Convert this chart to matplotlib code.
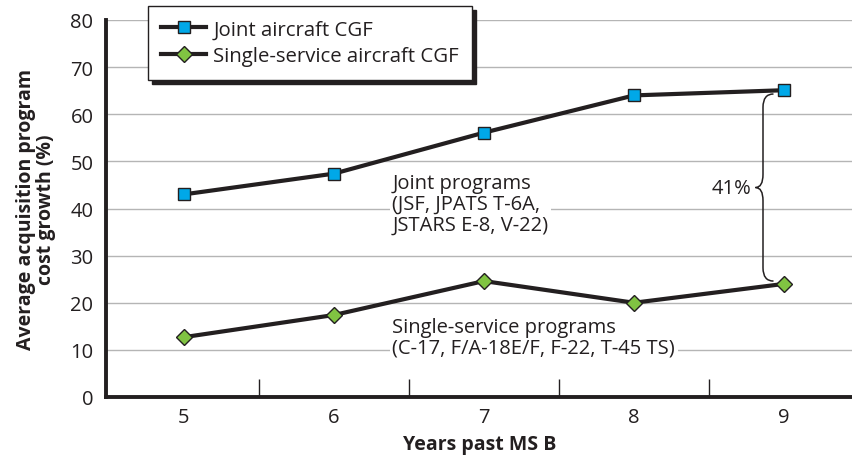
import numpy as np
import matplotlib.pyplot as plt
from matplotlib.path import Path
from matplotlib.patches import PathPatch

plt.rcParams['font.family'] = ['Open Sans', 'DejaVu Sans']

# data
years = [5, 6, 7, 8, 9]
joint_cgf = [43.0, 47.4, 56.1, 64.0, 65.1]
single_cgf = [12.7, 17.4, 24.6, 20.0, 24.0]
joint_label = 'Joint aircraft CGF'
single_label = 'Single-service aircraft CGF'
joint_note = 'Joint programs\n(JSF, JPATS T-6A,\nJSTARS E-8, V-22)'
single_note = 'Single-service programs\n(C-17, F/A-18E/F, F-22, T-45 TS)'
gap_label = '41%'

dark = '#231f20'
blue = '#00a8e8'
green = '#80c342'

fig = plt.figure(figsize=(8.53, 4.56), dpi=100)
ax = fig.add_axes([106/853, 58/456, 747/853, 377/456])

ax.plot(years, joint_cgf, color=dark, lw=3.0, marker='s', ms=8,
        mfc=blue, mec=dark, mew=1.0, label=joint_label, zorder=4)
ax.plot(years, single_cgf, color=dark, lw=3.0, marker='D', ms=8.5,
        mfc=green, mec=dark, mew=1.0, label=single_label, zorder=4)

ax.set_xlim(4.48, 9.46)
ax.set_ylim(0, 80)
ax.set_yticks(np.arange(0, 81, 10))
ax.set_xticks(years)
ax.set_xticks([5.5, 6.5, 7.5, 8.5], minor=True)
ax.tick_params(axis='x', which='major', length=0, pad=7, labelsize=14.5, colors=dark)
ax.tick_params(axis='x', which='minor', direction='in', length=13, width=1.0, color=dark)
ax.tick_params(axis='y', length=0, pad=9, labelsize=14.5, colors=dark)

ax.grid(axis='y', color='#b5b5b5', lw=1.0, zorder=0)
ax.set_axisbelow(True)
for s in ['top', 'right']:
    ax.spines[s].set_visible(False)
for s in ['left', 'bottom']:
    ax.spines[s].set_linewidth(2.8)
    ax.spines[s].set_color(dark)

ax.set_xlabel('Years past MS B', fontsize=14, fontweight='bold', color=dark, labelpad=5)
ax.set_ylabel('Average acquisition program\ncost growth (%)', fontsize=14,
              fontweight='bold', color=dark, labelpad=10, linespacing=1.0)

box = dict(facecolor='white', edgecolor='none', pad=2)
ax.text(6.39, 41.0, joint_note, fontsize=14.5, color=dark, va='center', ha='left',
        linespacing=1.05, bbox=box, zorder=3)
ax.text(6.39, 12.7, single_note, fontsize=14.5, color=dark, va='center', ha='left',
        linespacing=1.05, bbox=box, zorder=3)

# curly brace between the two series at year 9
xl, xt, xh = 8.86, 8.81, 8.93
yt, yb = joint_cgf[-1] - 0.8, single_cgf[-1] + 0.6
ym = (yt + yb) / 2
r = 2.8
verts = [(xh, yt), (xl, yt), (xl, yt - r), (xl, ym + r), (xl, ym), (xt, ym),
         (xl, ym), (xl, ym - r), (xl, yb + r), (xl, yb), (xh, yb)]
codes = [Path.MOVETO, Path.CURVE3, Path.CURVE3, Path.LINETO, Path.CURVE3, Path.CURVE3,
         Path.CURVE3, Path.CURVE3, Path.LINETO, Path.CURVE3, Path.CURVE3]
ax.add_patch(PathPatch(Path(verts, codes), fill=False, ec=dark, lw=1.1, zorder=5))
ax.text(xt - 0.03, ym, gap_label, fontsize=14.5, color=dark, ha='right', va='center',
        bbox=box, zorder=3)

leg = fig.legend(loc='upper left', bbox_to_anchor=(148/853, 1 - 7/456),
                 fontsize=14.7, frameon=True, fancybox=False, borderaxespad=0,
                 handlelength=2.2, handletextpad=0.35, labelspacing=0.35,
                 borderpad=0.65, shadow={'ox': 3, 'oy': -3, 'color': dark, 'alpha': 1})
leg.get_frame().set_edgecolor(dark)
leg.get_frame().set_linewidth(1.0)
for t in leg.get_texts():
    t.set_color(dark)

fig.savefig('out.png', dpi=100)
